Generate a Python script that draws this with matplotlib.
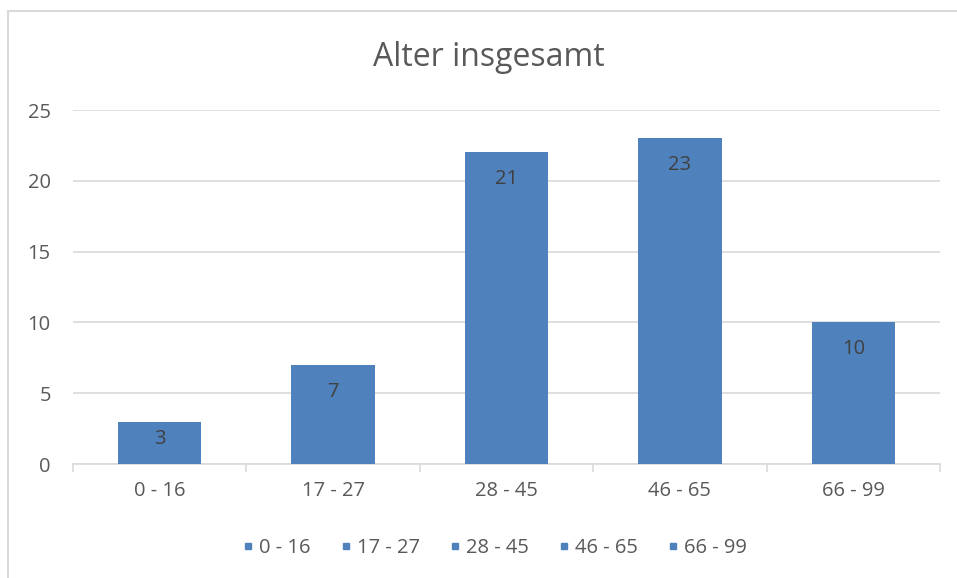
import numpy as np
import matplotlib.pyplot as plt
from matplotlib.patches import Rectangle
from matplotlib.lines import Line2D

categories = ["0 - 16", "17 - 27", "28 - 45", "46 - 65", "66 - 99"]
heights = [3, 7, 22, 23, 10]
labels = ["3", "7", "21", "23", "10"]
yticks = [0, 5, 10, 15, 20, 25]

bar_color = "#4f81bd"
text_color = "#595959"
grid_color = "#d9d9d9"

plt.rcParams['font.family'] = ['Open Sans', 'DejaVu Sans']

fig = plt.figure(figsize=(9.57, 5.78), dpi=100)
fig.patches.append(Rectangle((8 / 957, -0.1), 1.2, (578 - 11) / 578 + 0.1,
                             transform=fig.transFigure, fill=False,
                             edgecolor=grid_color, linewidth=1.5))

ax = fig.add_axes([73 / 957, (578 - 464) / 578, (940 - 73) / 957, (464 - 110) / 578])
x = np.arange(len(categories))
bars = ax.bar(x, heights, width=0.48, color=bar_color, zorder=3)

# labels sit inside the bar end; short bars get them nearer the middle
for b, lab in zip(bars, labels):
    h = b.get_height()
    ax.text(b.get_x() + b.get_width() / 2, max(h - 1.9, 0.59 * h), lab,
            ha="center", va="center", fontsize=14.5, color="#404040", zorder=4)

ax.set_xlim(-0.5, len(categories) - 0.5)
ax.set_ylim(0, 25)
ax.set_yticks(yticks)
ax.set_yticklabels([str(t) for t in yticks], fontsize=14.5, color=text_color)
ax.yaxis.grid(True, color=grid_color, linewidth=1.2, zorder=0)
ax.tick_params(axis="y", length=0, pad=16)

ax.set_xticks(x)
ax.set_xticklabels(categories, fontsize=14.5, color=text_color)
ax.set_xticks(np.arange(-0.5, len(categories)), minor=True)
ax.tick_params(axis="x", which="major", length=0, pad=12)
ax.tick_params(axis="x", which="minor", length=6, color=grid_color, width=1.2)

for s in ["top", "right", "left"]:
    ax.spines[s].set_visible(False)
ax.spines["bottom"].set_color(grid_color)
ax.spines["bottom"].set_linewidth(1.2)

fig.text(489 / 957, 1 - 58 / 578, "Alter insgesamt", ha="center", va="center",
         fontsize=23, color=text_color)

handles = [Line2D([], [], marker="s", linestyle="none", markersize=5,
                  color=bar_color) for _ in categories]
fig.legend(handles, categories, loc="center", bbox_to_anchor=(493 / 957, 1 - 548 / 578),
           ncol=5, frameon=False, fontsize=14.5, labelcolor=text_color,
           handletextpad=0.1, columnspacing=1.3, handlelength=0.9)

fig.savefig("out.png", dpi=100)
